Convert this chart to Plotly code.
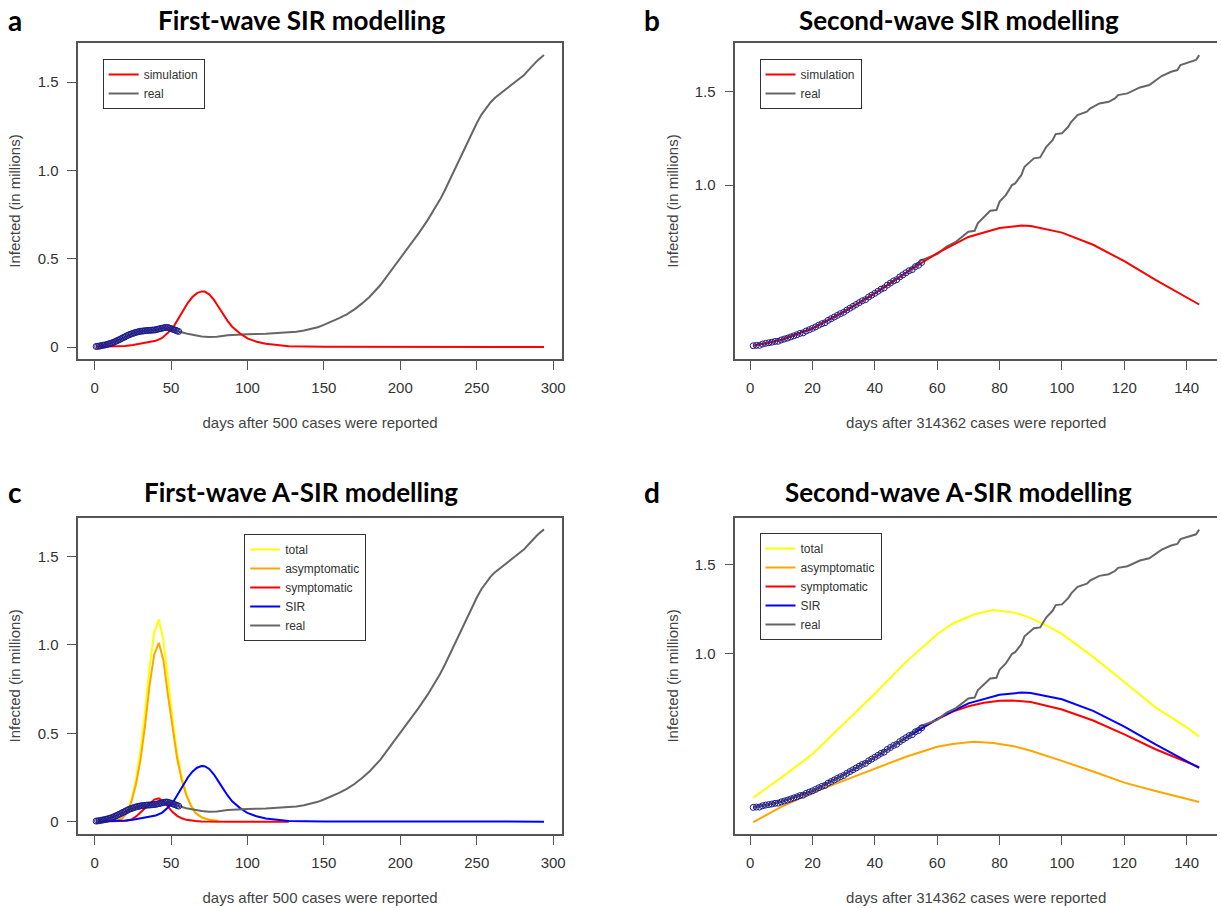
import plotly.graph_objects as go
from plotly.subplots import make_subplots

# ---------------- data: first wave (days after 500 cases) ----------------
obs1_days = list(range(1, 56))
obs1_vals = [0.003, 0.004, 0.005, 0.007, 0.009, 0.010, 0.012, 0.014, 0.017, 0.019,
             0.022, 0.025, 0.029, 0.033, 0.037, 0.041, 0.045, 0.050, 0.054, 0.058,
             0.063, 0.067, 0.071, 0.074, 0.077, 0.080, 0.083, 0.085, 0.087, 0.089,
             0.090, 0.091, 0.092, 0.093, 0.094, 0.094, 0.095, 0.096, 0.096, 0.098,
             0.100, 0.102, 0.104, 0.106, 0.108, 0.110, 0.111, 0.110, 0.107, 0.104,
             0.101, 0.098, 0.095, 0.091, 0.088]

real1_days = [1, 5, 10, 15, 20, 25, 30, 35, 40, 45, 48, 52, 55, 60, 65, 70, 75, 80, 87, 95,
              100, 112, 120, 127, 132, 137, 142, 146, 150, 155, 160, 165, 170, 175, 180,
              187, 193, 200, 206, 212, 218, 222, 226, 229, 232, 235, 238, 241, 244, 247, 250,
              253, 256, 259, 262, 266, 269, 272, 275, 278, 281, 284, 287, 290, 294]
real1_vals = [0.003, 0.009, 0.019, 0.037, 0.058, 0.077, 0.089, 0.094, 0.098, 0.108, 0.110,
              0.098, 0.088, 0.076, 0.066, 0.060, 0.056, 0.058, 0.066, 0.071, 0.072, 0.075,
              0.078, 0.081, 0.086, 0.093, 0.102, 0.112, 0.125, 0.142, 0.163, 0.185, 0.213,
              0.247, 0.285, 0.351, 0.420, 0.502, 0.570, 0.644, 0.720, 0.775, 0.835, 0.885,
              0.940, 0.998, 1.055, 1.110, 1.163, 1.215, 1.267, 1.315, 1.352, 1.385, 1.412,
              1.440, 1.462, 1.483, 1.503, 1.520, 1.541, 1.570, 1.598, 1.625, 1.654]

sir1_days = [1, 10, 20, 25, 30, 35, 40, 44, 48, 52, 55, 58, 61, 64, 67, 70, 72, 75, 78,
             81, 84, 87, 90, 95, 100, 106, 112, 120, 127, 150, 200, 250, 294]
sir1_vals = [0.001, 0.002, 0.006, 0.011, 0.018, 0.026, 0.035, 0.050, 0.080, 0.120, 0.165,
             0.210, 0.250, 0.283, 0.305, 0.315, 0.314, 0.298, 0.268, 0.228, 0.186, 0.148,
             0.115, 0.078, 0.049, 0.030, 0.018, 0.009, 0.004, 0.001, 0.0, 0.0, 0.0]

asir1_days = [1, 10, 15, 18, 21, 24, 27, 30, 33, 36, 39, 42, 45, 48, 51, 54, 57, 60, 63,
              66, 70, 75, 81]
total1_vals = [0.001, 0.004, 0.010, 0.020, 0.050, 0.120, 0.236, 0.400, 0.620, 0.880,
               1.070, 1.144, 1.030, 0.800, 0.580, 0.390, 0.255, 0.160, 0.095, 0.052,
               0.025, 0.010, 0.004]
asym1_vals = [0.001, 0.004, 0.009, 0.018, 0.045, 0.108, 0.208, 0.348, 0.542, 0.775,
              0.945, 1.012, 0.915, 0.715, 0.526, 0.357, 0.236, 0.150, 0.090, 0.049,
              0.024, 0.010, 0.004]
symp1_days = [1, 15, 18, 21, 24, 27, 30, 33, 36, 39, 42, 45, 48, 51, 54, 57, 60, 63, 66,
              70, 75, 90, 110, 127]
symp1_vals = [0.0, 0.001, 0.002, 0.005, 0.012, 0.028, 0.052, 0.078, 0.105, 0.125, 0.132,
              0.115, 0.085, 0.054, 0.033, 0.019, 0.010, 0.005, 0.003, 0.001, 0.0, 0.0,
              0.0, 0.0]

# ---------------- data: second wave (days after 314362 cases) ----------------
obs2_days = list(range(1, 56))
obs2_vals = [0.139, 0.141, 0.141, 0.148, 0.152, 0.155, 0.158, 0.162, 0.163, 0.170,
             0.175, 0.180, 0.186, 0.192, 0.198, 0.205, 0.208, 0.218, 0.225, 0.232,
             0.240, 0.249, 0.257, 0.262, 0.275, 0.284, 0.293, 0.302, 0.311, 0.318,
             0.330, 0.340, 0.350, 0.360, 0.370, 0.380, 0.386, 0.400, 0.410, 0.420,
             0.431, 0.442, 0.449, 0.464, 0.475, 0.486, 0.493, 0.508, 0.519, 0.530,
             0.541, 0.547, 0.563, 0.570, 0.585]

real2_days = [1, 10, 20, 30, 40, 50, 55, 60, 63, 66, 70, 72, 73, 75, 77, 79, 80, 82, 84,
              85, 87, 88, 91, 93, 95, 97, 98, 100, 102, 103, 105, 108, 109, 112, 115, 117,
              118, 121, 123, 125, 128, 130, 132, 135, 137, 138, 141, 143, 144]
real2_vals = [0.139, 0.170, 0.232, 0.321, 0.420, 0.530, 0.598, 0.630, 0.670, 0.696, 0.750,
              0.755, 0.795, 0.830, 0.862, 0.866, 0.911, 0.946, 1.000, 1.009, 1.054, 1.098,
              1.143, 1.148, 1.205, 1.241, 1.273, 1.277, 1.312, 1.339, 1.375, 1.393, 1.410,
              1.437, 1.446, 1.464, 1.482, 1.491, 1.509, 1.523, 1.536, 1.562, 1.584, 1.607,
              1.616, 1.643, 1.661, 1.670, 1.696]

sir2_days = [1, 10, 20, 30, 40, 50, 60, 70, 80, 87, 90, 100, 110, 120, 130, 140, 144]
sir2_vals = [0.139, 0.170, 0.232, 0.321, 0.420, 0.530, 0.635, 0.722, 0.770, 0.783, 0.780,
             0.745, 0.680, 0.592, 0.492, 0.397, 0.360]

symp2_days = [1, 10, 20, 30, 40, 50, 60, 65, 70, 75, 80, 84, 90, 100, 110, 120, 130, 140, 144]
symp2_vals = [0.139, 0.170, 0.232, 0.321, 0.420, 0.530, 0.633, 0.676, 0.706, 0.726, 0.737,
              0.739, 0.730, 0.688, 0.626, 0.548, 0.465, 0.393, 0.365]

asir2_days = [1, 10, 20, 30, 40, 50, 60, 65, 70, 72, 78, 85, 90, 95, 100, 110, 120, 130,
              140, 144]
total2_vals = [0.194, 0.306, 0.438, 0.607, 0.776, 0.955, 1.110, 1.170, 1.209, 1.222, 1.246,
               1.231, 1.200, 1.160, 1.112, 0.983, 0.842, 0.700, 0.588, 0.536]
asym2_vals = [0.056, 0.142, 0.222, 0.288, 0.353, 0.423, 0.479, 0.495, 0.504, 0.507, 0.500,
              0.480, 0.457, 0.430, 0.400, 0.340, 0.278, 0.231, 0.184, 0.169]

titles = ["First-wave SIR modelling", "Second-wave SIR modelling",
          "First-wave A-SIR modelling", "Second-wave A-SIR modelling"]
letters = ["a", "b", "c", "d"]
xlabels = ["days after 500 cases were reported", "days after 314362 cases were reported"]
ylabel = "Infected (in millions)"

RED, GREY, BLUE, YEL, ORA, NAVY = "#ff0000", "#666666", "#0000ff", "#ffff00", "#ffa500", "#1c1c8c"
LW = 2

fig = make_subplots(rows=2, cols=2)


def line(x, y, color, name, row, col, legend, show=True):
    fig.add_trace(go.Scatter(x=x, y=y, mode="lines", name=name,
                             line=dict(color=color, width=LW),
                             legend=legend, showlegend=show), row=row, col=col)


def pts(x, y, row, col, legend):
    fig.add_trace(go.Scatter(x=x, y=y, mode="markers", name="observed",
                             marker=dict(symbol="circle-open", size=6, color=NAVY,
                                         line=dict(width=1, color=NAVY)),
                             legend=legend, showlegend=False), row=row, col=col)


# panel a
line(real1_days, real1_vals, GREY, "real", 1, 1, "legend", show=False)
line(sir1_days, sir1_vals, RED, "simulation", 1, 1, "legend")
pts(obs1_days, obs1_vals, 1, 1, "legend")
line([None], [None], GREY, "real", 1, 1, "legend")

# panel b
line(real2_days, real2_vals, GREY, "real", 1, 2, "legend2", show=False)
line(sir2_days, sir2_vals, RED, "simulation", 1, 2, "legend2")
pts(obs2_days, obs2_vals, 1, 2, "legend2")
line([None], [None], GREY, "real", 1, 2, "legend2")

# panel c
line(asir1_days, total1_vals, YEL, "total", 2, 1, "legend3")
line(asir1_days, asym1_vals, ORA, "asymptomatic", 2, 1, "legend3")
line(symp1_days, symp1_vals, RED, "symptomatic", 2, 1, "legend3")
line(sir1_days, sir1_vals, BLUE, "SIR", 2, 1, "legend3")
line(real1_days, real1_vals, GREY, "real", 2, 1, "legend3")
pts(obs1_days, obs1_vals, 2, 1, "legend3")

# panel d
line(asir2_days, total2_vals, YEL, "total", 2, 2, "legend4")
line(asir2_days, asym2_vals, ORA, "asymptomatic", 2, 2, "legend4")
line(symp2_days, symp2_vals, RED, "symptomatic", 2, 2, "legend4")
line(sir2_days, sir2_vals, BLUE, "SIR", 2, 2, "legend4")
line(real2_days, real2_vals, GREY, "real", 2, 2, "legend4")
pts(obs2_days, obs2_vals, 2, 2, "legend4")

W, H = 1221, 908
AX_FONT = dict(family="Liberation Sans, Arial, sans-serif", size=15, color="#333333")
TITLE_FONT = dict(family="Liberation Sans, Arial, sans-serif", size=15, color="#444444")

common_x = dict(showline=True, mirror=True, linecolor="#555555", linewidth=1.5,
                ticks="outside", ticklen=9, tickwidth=1.3, tickcolor="#555555",
                showgrid=False, zeroline=False, tickfont=AX_FONT, ticklabelstandoff=5,
                title=dict(font=TITLE_FONT, standoff=23))
common_y = dict(showline=True, mirror=True, linecolor="#555555", linewidth=1.5,
                ticks="outside", ticklen=9, tickwidth=1.3, tickcolor="#555555",
                showgrid=False, zeroline=False, tickfont=AX_FONT, ticklabelstandoff=6,
                title=dict(font=TITLE_FONT, standoff=13))

xd_left = [78.5 / W, 563.7 / W]
xd_right = [737.8 / W, 1.0]
yd_top = [1 - 359 / H, 1 - 43 / H]
yd_bot = [1 - 834 / H, 1 - 517.7 / H]

fig.update_layout(
    width=W, height=H, margin=dict(l=0, r=0, t=0, b=0),
    paper_bgcolor="white", plot_bgcolor="white",
    xaxis=dict(common_x, domain=xd_left, range=[-10.7, 305.7],
               tickvals=[0, 50, 100, 150, 200, 250, 300], title_text=xlabels[0]),
    yaxis=dict(common_y, domain=yd_top, range=[-0.068, 1.722],
               tickvals=[0, 0.5, 1.0, 1.5], ticktext=["0", "0.5", "1.0", "1.5"],
               title_text=ylabel),
    xaxis2=dict(common_x, domain=xd_right, range=[-4.72, 149.72],
                tickvals=[0, 20, 40, 60, 80, 100, 120, 140], title_text=xlabels[1]),
    yaxis2=dict(common_y, domain=yd_top, range=[0.068, 1.761], mirror=False,
                tickvals=[1.0, 1.5], ticktext=["1.0", "1.5"], title_text=ylabel),
    xaxis3=dict(common_x, domain=xd_left, range=[-10.7, 305.7],
                tickvals=[0, 50, 100, 150, 200, 250, 300], title_text=xlabels[0]),
    yaxis3=dict(common_y, domain=yd_bot, range=[-0.07, 1.72],
                tickvals=[0, 0.5, 1.0, 1.5], ticktext=["0", "0.5", "1.0", "1.5"],
                title_text=ylabel),
    xaxis4=dict(common_x, domain=xd_right, range=[-4.72, 149.72],
                tickvals=[0, 20, 40, 60, 80, 100, 120, 140], title_text=xlabels[1]),
    yaxis4=dict(common_y, domain=yd_bot, range=[-0.01, 1.763], mirror=False,
                tickvals=[1.0, 1.5], ticktext=["1.0", "1.5"], title_text=ylabel),
)

LEG = dict(bgcolor="white", bordercolor="#333333", borderwidth=1,
           font=dict(family="Liberation Sans, Arial, sans-serif", size=12, color="#333333"),
           xanchor="left", yanchor="top", tracegroupgap=0, itemwidth=30)
fig.update_layout(
    legend=dict(LEG, x=103 / W, y=1 - 59 / H),
    legend2=dict(LEG, x=762 / W, y=1 - 59 / H),
    legend3=dict(LEG, x=245 / W, y=1 - 534 / H),
    legend4=dict(LEG, x=762 / W, y=1 - 533 / H),
)

title_pos = [(302, 20), (962, 20), (302, 492), (962, 492)]
letter_pos = [(15, 20), (654, 20), (15, 492), (654, 492)]
for t, (tx, ty), l, (lx, ly) in zip(titles, title_pos, letters, letter_pos):
    fig.add_annotation(text="<b>" + t + "</b>", x=tx / W, y=1 - ty / H, xref="paper",
                       yref="paper", showarrow=False, xanchor="center", yanchor="middle",
                       font=dict(family="Lato, sans-serif", size=26, color="black"))
    fig.add_annotation(text="<b>" + l + "</b>", x=lx / W, y=1 - ly / H, xref="paper",
                       yref="paper", showarrow=False, xanchor="center", yanchor="middle",
                       font=dict(family="Lato, sans-serif", size=28, color="black"))

fig.write_html("out.html")
